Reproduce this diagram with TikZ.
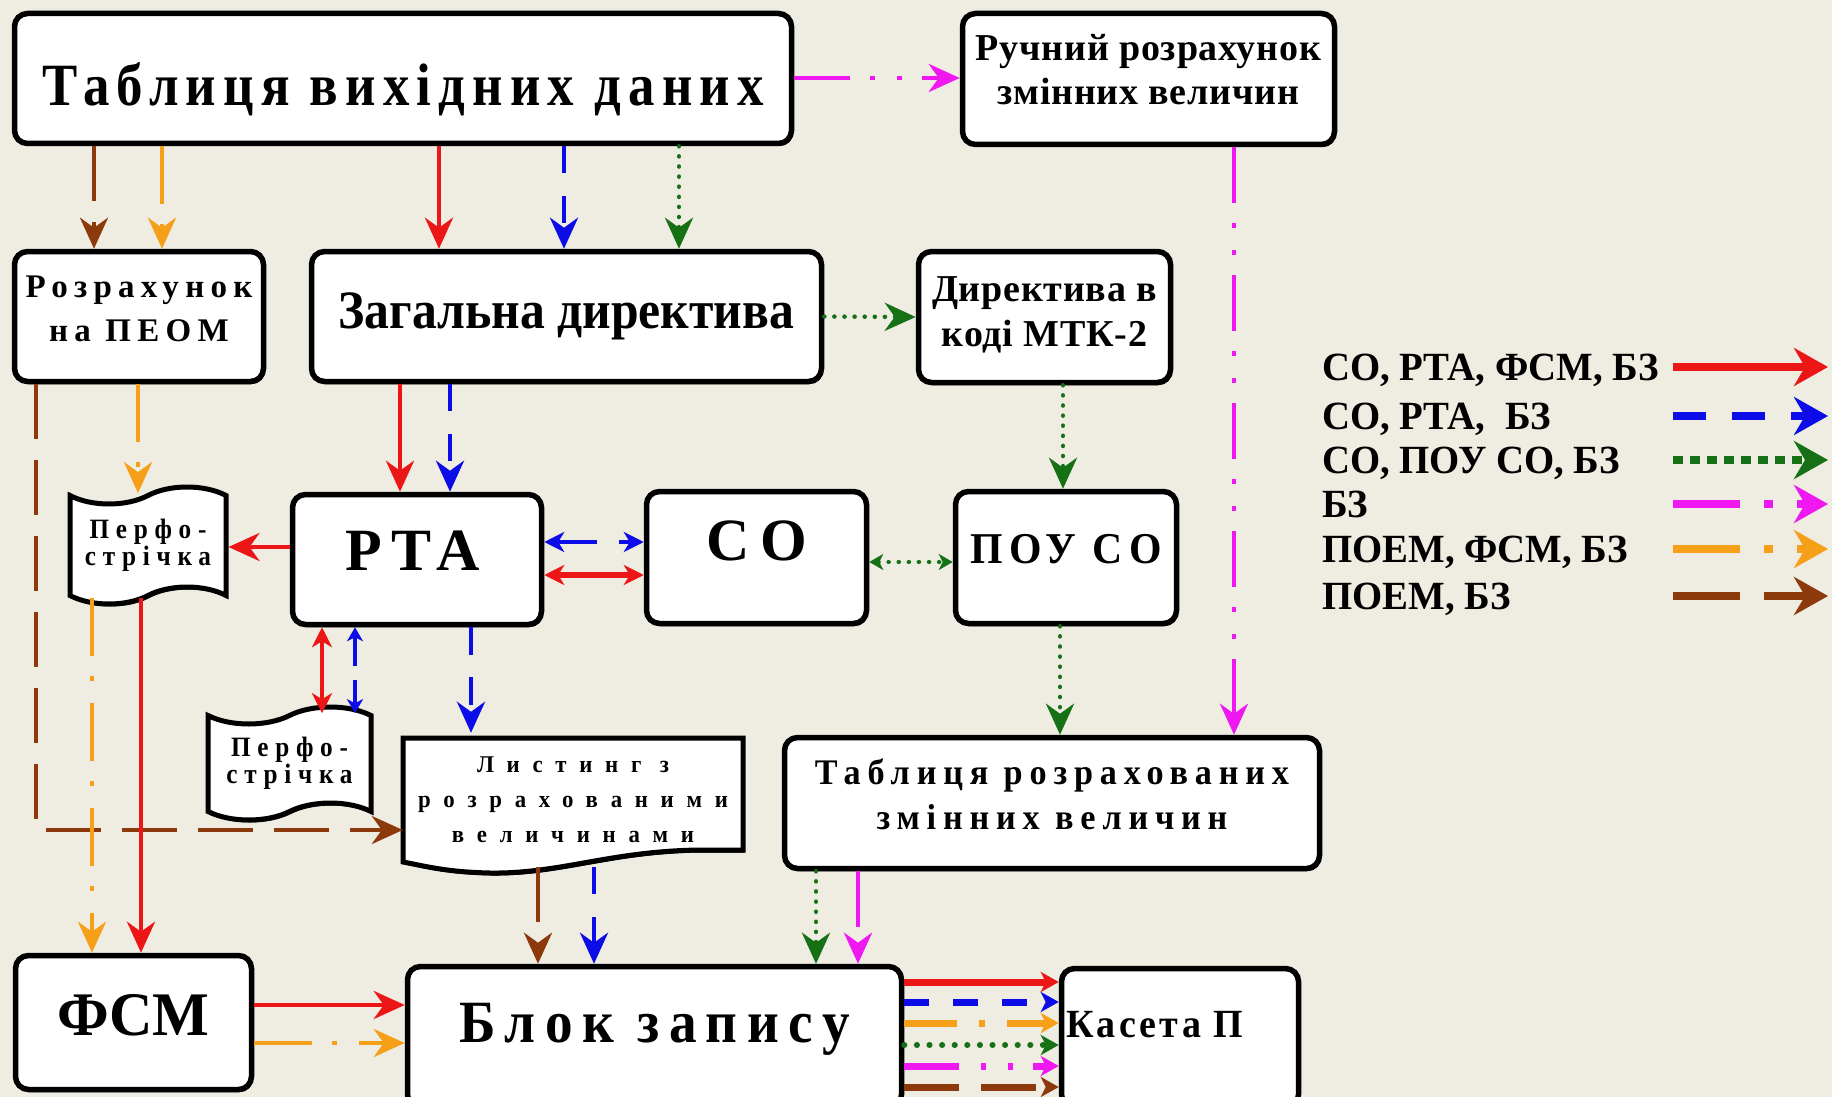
\documentclass[tikz,border=0pt]{standalone}
\usepackage{fontspec}
\setmainfont{Liberation Serif}
\usepackage{tikz}
\usetikzlibrary{arrows.meta,shapes.symbols,shadows}
\usepackage{xcolor}
\definecolor{bgcol}{RGB}{239,236,226}
\definecolor{cred}{RGB}{236,22,22}
\definecolor{cblue}{RGB}{12,12,232}
\definecolor{cgrn}{RGB}{22,112,22}
\definecolor{cmag}{RGB}{240,24,240}
\definecolor{corg}{RGB}{245,160,24}
\definecolor{cbrn}{RGB}{140,58,12}
% size, baselineskip, stretch, letter spacing
\newcommand{\bx}[4]{\bfseries\fontsize{#1pt}{#2pt}\selectfont\addfontfeatures{FakeStretch=#3,LetterSpace=#4}}
\tikzset{
  box/.style={draw, line width=5.5pt, rounded corners=13pt, fill=white, align=center,
    inner sep=0pt,
    drop shadow={shadow xshift=1.5pt, shadow yshift=-2.5pt, opacity=1, fill=black}},
  tapebox/.style={tape, draw, line width=5pt, fill=white, align=center, inner sep=0pt,
    tape bend height=17pt,
    drop shadow={shadow xshift=1.5pt, shadow yshift=-2.5pt, opacity=1, fill=black}},
  legtext/.style={anchor=base west, inner sep=0pt, font=\bx{40}{40}{0.97}{0}},
  ar/.style={line width=4.5pt, -{Stealth[length=31pt,width=28pt,inset=10pt]}},
  arbi/.style={line width=5.5pt, {Stealth[length=20pt,width=20pt,inset=6pt]}-{Stealth[length=20pt,width=20pt,inset=6pt]}},
  arsm/.style={line width=4.5pt, {Stealth[length=14pt,width=16pt,inset=4pt]}-{Stealth[length=14pt,width=16pt,inset=4pt]}},
  arkas/.style={line width=7pt, -{Stealth[length=18pt,width=20pt,inset=5pt]}},
  arleg/.style={line width=8pt, -{Stealth[length=34pt,width=38pt,inset=11pt]}},
  redln/.style={draw=cred},
  blueln/.style={draw=cblue, dash pattern=on 27pt off 23pt},
  grnln/.style={draw=cgrn, line cap=round, dash pattern=on 0.1pt off 10pt},
  magln/.style={draw=cmag, dash pattern=on 56pt off 20pt on 5pt off 22pt on 5pt off 20pt},
  orgln/.style={draw=corg, dash pattern=on 58pt off 20pt on 5pt off 22pt},
  brnln/.style={draw=cbrn, dash pattern=on 55pt off 21pt},
}

\begin{document}
\begin{tikzpicture}[x=1pt,y=-1pt]
\fill[bgcol] (0,0) rectangle (1832,1097);
\useasboundingbox (0,0) rectangle (1832,1097);
%%%BOXES
\node[box, minimum width=777pt, minimum height=130pt, text height=55pt, text depth=0pt,
  font=\bx{60}{60}{0.88}{12}] (tvd) at (403,78.5) {Таблиця вихідних даних};
\node[box, minimum width=372pt, minimum height=131pt, text depth=20pt, font=\bx{38}{44}{1.0}{2}] (rrz) at (1148.5,79)
  {Ручний розрахунок\\змінних величин};
\node[box, minimum width=249pt, minimum height=130pt, text depth=16pt, font=\bx{33}{44}{1.0}{19}] (rpe) at (139,316.5)
  {Розрахунок\\на ПЕОМ};
\node[box, minimum width=510pt, minimum height=130pt, text height=23pt, text depth=0pt,
  font=\bx{54}{54}{0.92}{0}] (zd) at (566.5,316.5) {Загальна директива};
\node[box, minimum width=252pt, minimum height=131pt, text depth=10pt, font=\bx{38}{45}{1.0}{2}] (dmtk) at (1044.5,317)
  {Директива в\\коді МТК-2};
\node[box, minimum width=249pt, minimum height=130pt, text height=21pt, text depth=0pt,
  font=\bx{60}{60}{1.0}{14}] (rta) at (417,559.5) {РТА\hspace*{8pt}};
\node[box, minimum width=220pt, minimum height=132pt, text height=5pt, text depth=0pt,
  font=\bx{60}{60}{1.0}{18}] (so) at (756.5,557.5) {СО};
\node[box, minimum width=221pt, minimum height=132pt, text height=11pt, text depth=0pt,
  font=\bx{44}{44}{0.95}{14}] (pou) at (1066,557.5) {ПОУ СО};
\node[box, minimum width=535pt, minimum height=131pt, text depth=18pt, font=\bx{36}{45}{0.95}{19}] (trz) at (1052,803)
  {Таблиця розрахованих\\змінних величин};
\node[box, minimum width=236pt, minimum height=134pt, text height=25pt, text depth=0pt,
  font=\bx{62}{62}{0.97}{0}] (fsm) at (133.5,1022.5) {ФСМ};
\node[box, minimum width=494pt, minimum height=141pt, text height=10pt, text depth=0pt,
  font=\bx{60}{60}{0.92}{16}] (bz) at (654.5,1037) {Блок запису};
\node[box, minimum width=237pt, minimum height=139pt, text height=0pt, text depth=2pt,
  font=\bx{40}{40}{0.95}{8}] (kas) at (1180,1038) {Касета П\hspace*{50pt}};
%%%TAPES
\node[tapebox, minimum width=156pt, minimum height=117pt, font=\bx{28}{27}{0.9}{24}] (pf1) at (148,545.5)
  {Перфо-\\стрічка};
\node[tapebox, minimum width=163pt, minimum height=113pt, font=\bx{28}{27}{0.9}{24}] (pf2) at (289.5,763.5)
  {Перфо-\\стрічка};
%%%LISTING
\filldraw[line width=5pt, fill=white, drop shadow={shadow xshift=1.5pt, shadow yshift=-2.5pt, opacity=1, fill=black}]
  (403,738) -- (743,738) -- (743,850) -- (700,850)
  .. controls (610,851) and (560,874) .. (490,873)
  .. controls (445,872) and (425,866) .. (403,862) -- cycle;
\node[minimum width=340pt, minimum height=134pt, inner sep=0pt, align=center,
  font=\bx{24}{35}{0.95}{53}] (lst) at (573,800)
  {Листинг з\\розрахованими\\величинами};
%%%ARROWS FROM THE TOP
\draw[brnln,ar] (tvd.south -| 94,0) -- (rpe.north -| 94,0);
\draw[orgln,ar] (tvd.south -| 162,0) -- (rpe.north -| 162,0);
\draw[redln,ar] (tvd.south -| 439,0) -- (zd.north -| 439,0);
\draw[blueln,ar] (tvd.south -| 564,0) -- (zd.north -| 564,0);
\draw[grnln,ar] (tvd.south -| 679,0) -- (zd.north -| 679,0);
\draw[magln,ar] (tvd.east |- 0,78) -- (rrz.west |- 0,78);
\draw[magln,ar] (rrz.south -| 1234,0) -- (trz.north -| 1234,0);
%%%SECOND ROW
\draw[orgln,ar] (rpe.south -| 138,0) -- (pf1.north -| 138,0);
\draw[brnln,ar] (rpe.south -| 36,0) |- (lst.west |- 0,830);
\draw[redln,ar] (zd.south -| 400,0) -- (rta.north -| 400,0);
\draw[blueln,ar] (zd.south -| 450,0) -- (rta.north -| 450,0);
\draw[grnln,ar] (zd.east) -- (dmtk.west);
\draw[grnln,ar] (dmtk.south -| 1063,0) -- (pou.north -| 1063,0);
%%%MIDDLE
\draw[redln,ar] (rta.west |- 0,547) -- (pf1.east |- 0,547);
\draw[blueln,arbi,line width=4.5pt,dash pattern=on 40pt off 22pt] (rta.east |- 0,542) -- (so.west |- 0,542);
\draw[redln,arbi] (rta.east |- 0,575) -- (so.west |- 0,575);
\draw[grnln,arsm] (so.east |- 0,562) -- (pou.west |- 0,562);
\draw[redln,arbi,line width=4.5pt] (rta.south -| 322,0) -- (pf2.north -| 322,0);
\draw[blueln,arsm,dash pattern=on 30pt off 14pt] (rta.south -| 355,0) -- (pf2.north -| 355,0);
\draw[blueln,ar,dash pattern=on 28pt off 22pt] (rta.south -| 471,0) -- (lst.north -| 471,0);
\draw[grnln,ar] (pou.south -| 1060,0) -- (trz.north -| 1060,0);
%%%TO THE BOTTOM
\draw[orgln,ar] (pf1.south -| 92,0) -- (fsm.north -| 92,0);
\draw[redln,ar] (pf1.south -| 141,0) -- (fsm.north -| 141,0);
\draw[brnln,ar] (lst.south -| 538,0) -- (bz.north -| 538,0);
\draw[blueln,ar] (lst.south -| 594,0) -- (bz.north -| 594,0);
\draw[grnln,ar] (trz.south -| 816,0) -- (bz.north -| 816,0);
\draw[magln,ar] (trz.south -| 858,0) -- (bz.north -| 858,0);
\draw[redln,ar] (fsm.east |- 0,1005) -- (bz.west |- 0,1005);
\draw[orgln,ar] (fsm.east |- 0,1043) -- (bz.west |- 0,1043);
%%%TO THE CASSETTE
\draw[redln,arkas] (bz.east |- 0,982) -- (kas.west |- 0,982);
\draw[blueln,arkas,dash pattern=on 25pt off 24pt] (bz.east |- 0,1002) -- (kas.west |- 0,1002);
\draw[orgln,arkas,dash pattern=on 53pt off 22pt on 6pt off 22pt] (bz.east |- 0,1023) -- (kas.west |- 0,1023);
\draw[grnln,arkas,line width=6pt,dash pattern=on 0.1pt off 12.5pt] (bz.east |- 0,1045) -- (kas.west |- 0,1045);
\draw[magln,arkas,dash pattern=on 55pt off 22pt on 5pt off 22pt on 5pt off 20pt] (bz.east |- 0,1066) -- (kas.west |- 0,1066);
\draw[brnln,arkas,dash pattern=on 55pt off 22pt] (bz.east |- 0,1087) -- (kas.west |- 0,1087);
%%%LEGEND
\node[legtext] (lg1) at (1322,380) {СО, РТА, ФСМ, БЗ};
\node[legtext] (lg2) at (1322,429) {СО, РТА,~ БЗ};
\node[legtext] (lg3) at (1322,473) {СО, ПОУ СО, БЗ};
\node[legtext] (lg4) at (1322,517) {БЗ};
\node[legtext] (lg5) at (1322,562) {ПОЕМ, ФСМ, БЗ};
\node[legtext] (lg6) at (1322,609) {ПОЕМ, БЗ};
\coordinate (la1) at (1673,367); \coordinate (lb1) at (1828,367);
\coordinate (la2) at (1673,416); \coordinate (lb2) at (1828,416);
\coordinate (la3) at (1673,460); \coordinate (lb3) at (1828,460);
\coordinate (la4) at (1673,504); \coordinate (lb4) at (1828,504);
\coordinate (la5) at (1673,549); \coordinate (lb5) at (1828,549);
\coordinate (la6) at (1673,596); \coordinate (lb6) at (1828,596);
\draw[redln,arleg] (la1) -- (lb1);
\draw[blueln,arleg,dash pattern=on 33pt off 26pt] (la2) -- (lb2);
\draw[draw=cgrn,arleg,dash pattern=on 10pt off 7pt] (la3) -- (lb3);
\draw[magln,arleg,dash pattern=on 67pt off 24pt on 9pt off 24pt] (la4) -- (lb4);
\draw[orgln,arleg,dash pattern=on 67pt off 24pt on 9pt off 24pt] (la5) -- (lb5);
\draw[brnln,arleg,dash pattern=on 67pt off 24pt] (la6) -- (lb6);
\end{tikzpicture}
\end{document}
